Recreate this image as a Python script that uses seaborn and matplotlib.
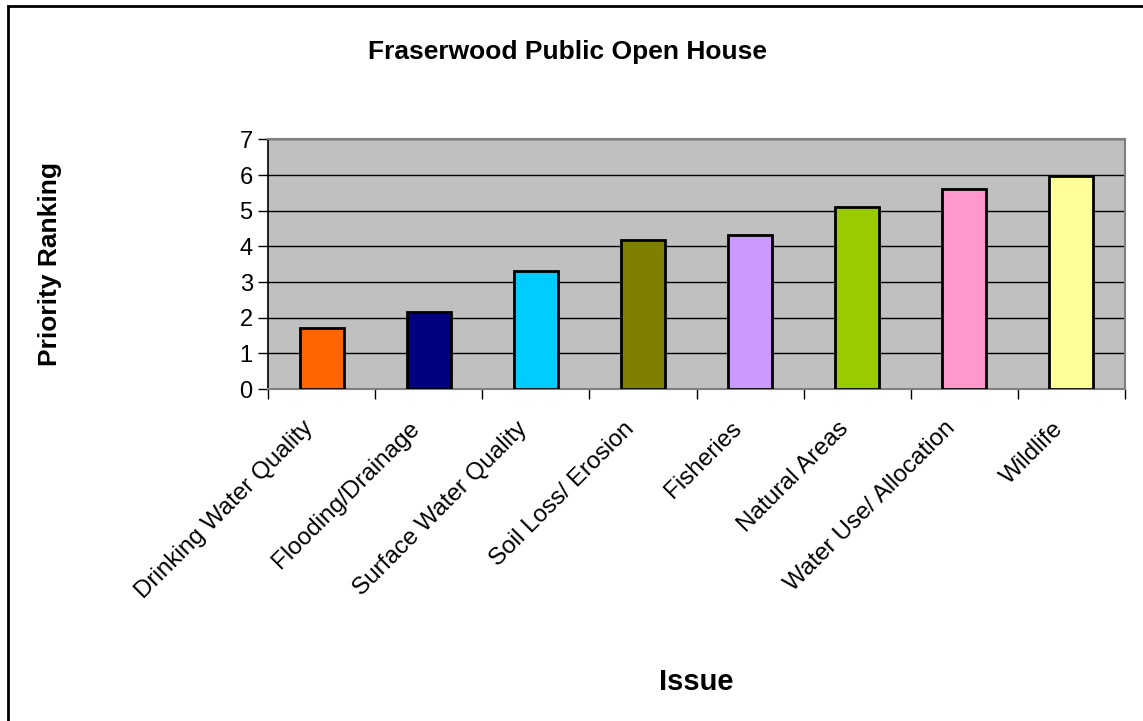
import matplotlib
matplotlib.use("Agg")
import matplotlib.pyplot as plt
import matplotlib.patches as mpatches
import matplotlib.transforms as mtransforms
import seaborn as sns
import pandas as pd

categories = ["Drinking Water Quality", "Flooding/Drainage", "Surface Water Quality",
              "Soil Loss/ Erosion", "Fisheries", "Natural Areas",
              "Water Use/ Allocation", "Wildlife"]
values = [1.72, 2.16, 3.31, 4.18, 4.32, 5.11, 5.62, 5.98]
colors = ["#FF6600", "#000080", "#00CCFF", "#808000", "#CC99FF", "#99CC00", "#FF99CC", "#FFFF99"]
yticks = [0, 1, 2, 3, 4, 5, 6, 7]

sns.set_theme(style="white")
plt.rcParams['font.family'] = ['Liberation Sans', 'DejaVu Sans']
plt.rcParams['text.color'] = 'black'
plt.rcParams['axes.labelcolor'] = 'black'
plt.rcParams['xtick.color'] = 'black'
plt.rcParams['ytick.color'] = 'black'

W, H = 1143, 721
fig = plt.figure(figsize=(W / 100, H / 100), dpi=100)
ax = fig.add_axes([268 / W, 1 - 389 / H, (1125 - 268) / W, (389 - 139.5) / H])

df = pd.DataFrame({"Issue": categories, "Value": values})
sns.barplot(data=df, x="Issue", y="Value", hue="Issue", palette=colors, legend=False,
            saturation=1, width=0.41, edgecolor="black", linewidth=2, ax=ax, zorder=3)

ax.set_facecolor("#C0C0C0")
ax.set_ylim(0, 7)
ax.set_xlim(-0.5, len(categories) - 0.5)
ax.set_yticks(yticks)
ax.set_yticklabels([str(v) for v in yticks], fontsize=17)
ax.yaxis.grid(True, color="black", linewidth=1, zorder=0)
ax.set_axisbelow(True)

ax.set_xticks(range(len(categories)))
ax.set_xticklabels(categories, rotation=45, ha="right", va="center",
                   rotation_mode="anchor", fontsize=17.5)
ax.tick_params(axis="x", which="major", length=0, pad=26)
offset = mtransforms.ScaledTranslation(-12 / 100, 0, fig.dpi_scale_trans)
for lbl in ax.get_xticklabels():
    lbl.set_transform(lbl.get_transform() + offset)
ax.set_xticks([i + 0.5 for i in range(-1, len(categories))], minor=True)
ax.tick_params(axis="x", which="minor", length=7, width=1, color="black", direction="out", bottom=True)
ax.tick_params(axis="y", which="major", length=7, width=1, color="black", direction="out", left=True, pad=4)

for s in ["top", "right", "bottom"]:
    ax.spines[s].set_color("#808080")
    ax.spines[s].set_linewidth(1.5)
ax.spines["left"].set_color("black")
ax.spines["left"].set_linewidth(1.2)

ax.set_xlabel("Issue", fontsize=21, fontweight="bold")
ax.xaxis.set_label_coords(0.5, -(668 - 389) / (389 - 139.5), transform=ax.transAxes)
ax.set_ylabel("Priority Ranking", fontsize=19, fontweight="bold")
ax.yaxis.set_label_coords((62 - 268) / (1125 - 268), 0.5)

fig.text(568 / W, 1 - 52 / H, "Fraserwood Public Open House", fontsize=19,
         fontweight="bold", ha="center", va="center")

frame = mpatches.Rectangle((8 / W, -0.1), 1.2, 1 - 6 / H + 0.1, transform=fig.transFigure,
                           fill=False, edgecolor="black", linewidth=2, clip_on=False)
fig.patches.append(frame)

fig.savefig("out.png", dpi=100, facecolor="white")
